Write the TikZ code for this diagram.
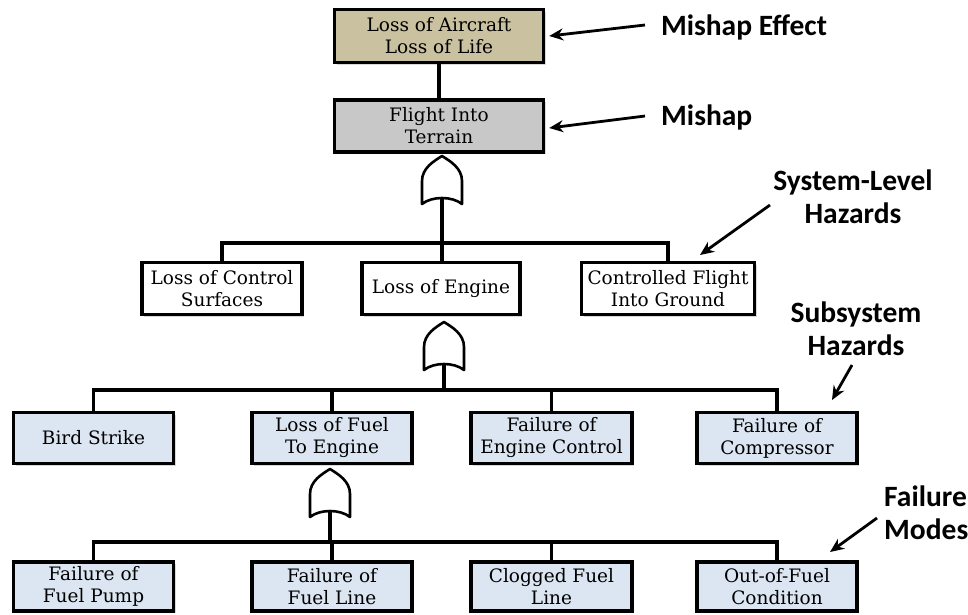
\documentclass[tikz,border=0pt]{standalone}
\usepackage{fontspec}
\setmainfont{DejaVu Serif}
\newfontfamily\labelfont{Carlito}
\usetikzlibrary{arrows.meta,shadows}

\definecolor{effectfill}{HTML}{C9C1A0}
\definecolor{mishapfill}{HTML}{C8C8C8}
\definecolor{eventfill}{HTML}{DCE6F2}

\tikzset{
  evbox/.style={draw=black, line width=3.4pt, fill=white, align=center,
    inner sep=0pt, font=\fontsize{18.5}{22}\selectfont,
    drop shadow={shadow xshift=2pt, shadow yshift=-2pt, fill=black, opacity=0.15}},
  conn/.style={line width=3.3pt},
  gateline/.style={draw=black, fill=white, line width=2.6pt, line join=round},
  tag/.style={font=\labelfont\bfseries\fontsize{29.5}{33}\selectfont, align=center, inner sep=0pt},
  tagarrow/.style={line width=2.8pt, -{Stealth[length=14pt,width=12pt]}},
  orgate/.pic={
    \path[gateline] (-20,48) -- (-20,25)
      .. controls (-20,12) and (-8,5) .. (0,0)
      .. controls (8,5) and (20,12) .. (20,25)
      -- (20,48)
      .. controls (10,40) and (-10,40) .. (-20,48) -- cycle;
    \coordinate (-tip) at (0,0);
    \coordinate (-base) at (0,42);
  }
}

\begin{document}
\begin{tikzpicture}[x=1pt,y=-1pt]
\useasboundingbox (0,0) rectangle (968,614);

% top events
\node[evbox, fill=effectfill, minimum width=209pt, minimum height=53pt] (effect) at (439,36) {Loss of Aircraft\\Loss of Life};
\node[evbox, fill=mishapfill, minimum width=209pt, minimum height=52pt] (mishap) at (439,126) {Flight Into\\Terrain};

% system-level hazards
\node[evbox, minimum width=160pt, minimum height=52pt] (lcs) at (222,288.5) {Loss of Control\\Surfaces};
\node[evbox, minimum width=158pt, minimum height=52pt] (loe) at (441,288.5) {Loss of Engine};
\node[evbox, minimum width=173pt, minimum height=52pt] (cfg) at (668,288.5) {Controlled Flight\\Into Ground};

% subsystem hazards
\node[evbox, fill=eventfill, minimum width=160pt, minimum height=51pt] (bird) at (93.5,438) {Bird Strike};
\node[evbox, fill=eventfill, minimum width=160pt, minimum height=51pt] (lfe) at (332,438) {Loss of Fuel\\To Engine};
\node[evbox, fill=eventfill, minimum width=161pt, minimum height=51pt] (fec) at (551.5,438) {Failure of\\Engine Control};
\node[evbox, fill=eventfill, minimum width=160pt, minimum height=51pt] (fcomp) at (777,438) {Failure of\\Compressor};

% failure modes
\node[evbox, fill=eventfill, minimum width=160pt, minimum height=49pt] (fpump) at (93.5,586.5) {Failure of\\Fuel Pump};
\node[evbox, fill=eventfill, minimum width=160pt, minimum height=49pt] (fline) at (332,586.5) {Failure of\\Fuel Line};
\node[evbox, fill=eventfill, minimum width=161pt, minimum height=49pt] (clog) at (551.5,586.5) {Clogged Fuel\\Line};
\node[evbox, fill=eventfill, minimum width=160pt, minimum height=49pt] (oof) at (777,586.5) {Out-of-Fuel\\Condition};

% OR gates
\pic (g1) at (442,156) {orgate};
\pic (g2) at (444,322) {orgate};
\pic (g3) at (330,469) {orgate};

% tree connectors
\coordinate (bar2) at (442,243);
\coordinate (bar3) at (444,390);
\coordinate (bar4) at (330,542);

\draw[conn] (effect.south) -- (mishap.north);
\draw[conn] (g1-base) -- (g1-base |- loe.north);
\draw[conn] (lcs.north) |- (bar2) -| (cfg.north);

\draw[conn] (g2-base) -- (bar3);
\draw[conn] (bird.north) |- (bar3) -| (fcomp.north);
\draw[conn] (lfe.north) -- (lfe.north |- bar3);
\draw[conn] (fec.north) -- (fec.north |- bar3);

\draw[conn] (g3-base) -- (bar4);
\draw[conn] (fpump.north) |- (bar4) -| (oof.north);
\draw[conn] (fline.north) -- (fline.north |- bar4);
\draw[conn] (clog.north) -- (clog.north |- bar4);

% level tags
\node[tag] (teffect) at (744,27) {Mishap Effect};
\node[tag, anchor=west] (tmishap) at (661,117) {Mishap};
\node[tag] (tsys) at (853,197) {System-Level\\Hazards};
\node[tag] (tsub) at (856,329) {Subsystem\\Hazards};
\node[tag, align=left, anchor=west] (tfail) at (884,513) {Failure\\Modes};

\coordinate (a1) at (645,25);
\coordinate (a2) at (645,116);
\coordinate (a3) at (770,205);
\coordinate (a3e) at (700,255);
\coordinate (a4) at (852,365);
\coordinate (a4e) at (832,400);
\coordinate (a5) at (877,518);
\coordinate (a5e) at (830,552);

\draw[tagarrow] (a1) -- ([xshift=4pt]effect.east |- 0,36);
\draw[tagarrow] (a2) -- ([xshift=4pt]mishap.east |- 0,128);
\draw[tagarrow] (a3) -- (a3e);
\draw[tagarrow] (a4) -- (a4e);
\draw[tagarrow] (a5) -- (a5e);
\end{tikzpicture}
\end{document}
